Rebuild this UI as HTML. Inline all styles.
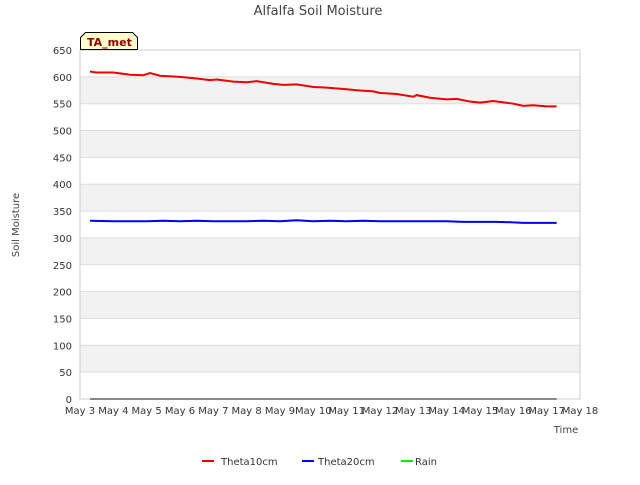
<!DOCTYPE html>
<html><head><meta charset="utf-8"><style>
body{margin:0;background:#fff;font-family:"Liberation Sans","DejaVu Sans",sans-serif;}
svg text{font-family:"DejaVu Sans","Liberation Sans",sans-serif;}
</style></head><body>
<svg id="c" width="640" height="480">
<text x="318" y="15" font-size="13" fill="#444" text-anchor="middle">Alfalfa Soil Moisture</text>
<g id="bands"></g><g id="grid"></g>
<rect x="80" y="50" width="500" height="349" fill="none" stroke="#ccc"/>
<g id="ticks"></g><g id="series"></g>
<text x="19" y="225" font-size="10" fill="#444" text-anchor="middle" transform="rotate(-90 19 225)">Soil Moisture</text>
<text x="566" y="433" font-size="10" fill="#444" text-anchor="middle">Time</text>
<g>
<path d="M80.5,49.5 L80.5,37.5 L85.5,32.5 L132.5,32.5 L137.5,37.5 L137.5,49.5 Z" fill="#ffffcc" stroke="#000"/>
<text x="87" y="46" font-size="11" font-weight="bold" fill="#8b0000">TA_met</text></g>
<g>
<line x1="202" y1="461" x2="214" y2="461" stroke="#e00" stroke-width="2"/><text x="221" y="465" font-size="10" fill="#333">Theta10cm</text>
<line x1="302" y1="461" x2="314" y2="461" stroke="#00f" stroke-width="2"/><text x="318" y="465" font-size="10" fill="#333">Theta20cm</text>
<line x1="401" y1="461" x2="413" y2="461" stroke="#0e0" stroke-width="2"/><text x="415" y="465" font-size="10" fill="#333">Rain</text>
</g>
</svg>
<script>
const xTicks=["May 3","May 4","May 5","May 6","May 7","May 8","May 9","May 10","May 11","May 12","May 13","May 14","May 15","May 16","May 17","May 18"];
const yTicks=[0,50,100,150,200,250,300,350,400,450,500,550,600,650];
const t10Days=[0.3,0.5,1,1.5,1.9,2.1,2.4,3,3.5,3.9,4.1,4.6,5,5.3,5.8,6.1,6.5,7,7.4,8,8.3,8.8,9,9.5,10,10.1,10.5,11,11.3,11.7,12,12.4,13,13.3,13.6,14,14.3];
const t10=[610,608,608,604,603,607,602,600,597,594,595,591,590,592,587,585,586,581,580,577,575,573,570,568,563,566,561,558,559,554,552,555,550,546,547,545,545];
const t20Days=[0.3,1,2,2.5,3,3.5,4,5,5.5,6,6.5,7,7.5,8,8.5,9,10,11,11.5,12,12.5,13,13.3,14,14.3];
const t20=[332,331,331,332,331,332,331,331,332,331,333,331,332,331,332,331,331,331,330,330,330,329,328,328,328];
const rainDays=[0.3,14.3];
const rain=[0,0];
const NS="http://www.w3.org/2000/svg";
const X=d=>80+d*500/15, Y=v=>399-v*349/650;
function mk(p,tag,a){const e=document.createElementNS(NS,tag);for(const k in a)e.setAttribute(k,a[k]);document.getElementById(p).appendChild(e);return e;}
for(let i=0;i<yTicks.length-1;i++){if(i%2==1){const b=mk('bands','rect',{x:80,y:Y(yTicks[i+1]),width:500,height:Y(yTicks[i])-Y(yTicks[i+1]),fill:'#f2f2f2'});

}}
yTicks.forEach(v=>{const l=mk('grid','line',{x1:80,x2:580,y1:Y(v),y2:Y(v),stroke:'#ddd'});


const t=mk('ticks','text',{x:72,y:Y(v)+4,'font-size':10,fill:'#333','text-anchor':'end'});t.textContent=v;

});
xTicks.forEach((s,i)=>{const t=mk('ticks','text',{x:X(i),y:414,'font-size':10,fill:'#333','text-anchor':'middle'});t.textContent=s;

});
function line(days,vals,col,name){const p=mk('series','polyline',{points:days.map((d,i)=>X(d)+','+Y(vals[i])).join(' '),fill:'none',stroke:col,'stroke-width':2});

}
line(rainDays,rain,'#888','rain-line');
line(t20Days,t20,'#00f','theta20cm-line');
line(t10Days,t10,'#e00','theta10cm-line');
</script>
</body></html>
